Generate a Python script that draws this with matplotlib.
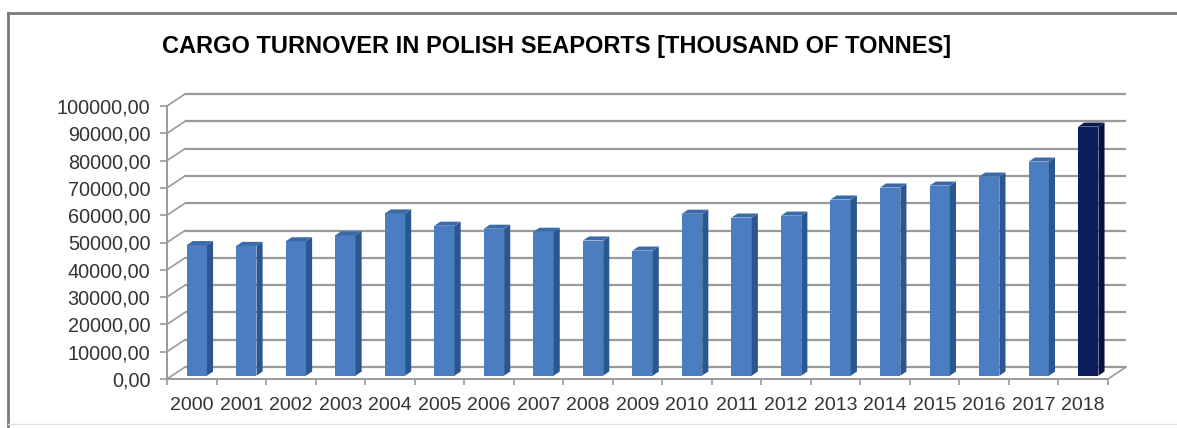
import numpy as np
import matplotlib
matplotlib.use("Agg")
import matplotlib.pyplot as plt
from matplotlib.patches import Polygon

# Cargo turnover in Polish seaports, thousand tonnes
years = ["2000", "2001", "2002", "2003", "2004", "2005", "2006", "2007", "2008", "2009",
         "2010", "2011", "2012", "2013", "2014", "2015", "2016", "2017", "2018"]
turnover = [47800, 47500, 49200, 51400, 59400, 54900, 53800, 52700, 49500, 45800,
            59300, 57900, 58600, 64500, 68900, 69600, 72900, 78400, 91200]
y_ticks = [0, 10000, 20000, 30000, 40000, 50000, 60000, 70000, 80000, 90000, 100000]
title = "CARGO TURNOVER IN POLISH SEAPORTS [THOUSAND OF TONNES]"

W, H, DPI = 1177, 428, 100
fig = plt.figure(figsize=(W / DPI, H / DPI), dpi=DPI)
fig.patch.set_facecolor("white")

# front plane of the 3D box, in pixels
left_px, right_px, base_px, top_px = 167, 1108, 379, 106
ax = fig.add_axes([left_px / W, (H - base_px) / H,
                   (right_px - left_px) / W, (base_px - top_px) / H])
n = len(years)
ax.set_xlim(0, n)
ax.set_ylim(0, 100000)
ax.set_facecolor("none")

# depth of the box expressed in data units
px_x = (right_px - left_px) / n
px_y = (base_px - top_px) / 100000
DX = 18 / px_x
DY = 12 / px_y

grid_col = "#9a9a9a"
lw_grid = 1.6

# back wall gridlines and side wall diagonals
for v in y_ticks:
    ax.plot([DX, n + DX], [v + DY, v + DY], color=grid_col, lw=lw_grid,
            clip_on=False, zorder=1, solid_capstyle="butt")
    ax.plot([0, DX], [v, v + DY], color=grid_col, lw=1.2, clip_on=False, zorder=1)
# floor
ax.plot([0, n], [0, 0], color=grid_col, lw=1.4, clip_on=False, zorder=1)
ax.plot([n, n + DX], [0, DY], color=grid_col, lw=1.2, clip_on=False, zorder=1)
ax.plot([0, 0], [0, 100000], color=grid_col, lw=1.4, clip_on=False, zorder=1)

# 3D columns
f0, f1 = 0.28, 0.62
bw = 0.41
x = np.arange(n) + 0.5
front_cols = ["#4a7ec0"] * (n - 1) + ["#0c1f5c"]
side_cols = ["#2b5791"] * (n - 1) + ["#06123e"]
top_cols = ["#3b6aa8"] * (n - 1) + ["#0a1a4e"]
bars = ax.bar(x + f0 * DX, turnover, bottom=f0 * DY, width=bw,
              color=front_cols, edgecolor="none", zorder=3, clip_on=False)
ddx = (f1 - f0) * DX
ddy = (f1 - f0) * DY
for rect, sc, tc in zip(bars, side_cols, top_cols):
    x0 = rect.get_x()
    x1 = x0 + rect.get_width()
    yb = rect.get_y()
    yt = yb + rect.get_height()
    side = Polygon([(x1, yb), (x1 + ddx, yb + ddy), (x1 + ddx, yt + ddy), (x1, yt)],
                   closed=True, facecolor=sc, edgecolor="none", zorder=3, clip_on=False)
    top = Polygon([(x0, yt), (x1, yt), (x1 + ddx, yt + ddy), (x0 + ddx, yt + ddy)],
                  closed=True, facecolor=tc, edgecolor="none", zorder=3, clip_on=False)
    ax.add_patch(side)
    ax.add_patch(top)

# axes, ticks and labels
for s in ax.spines.values():
    s.set_visible(False)
lab_font = {"family": "Liberation Sans", "size": 14.3}
ax.set_yticks(y_ticks)
ax.set_yticklabels([f"{v:d},00" for v in y_ticks], fontdict=lab_font, color="#333333")
ax.tick_params(axis="y", length=5, width=1.2, color=grid_col, pad=7)
ax.set_xticks(np.arange(n + 1))
ax.set_xticklabels([])
ax.tick_params(axis="x", which="major", length=4, width=1.2, color=grid_col)
ax.set_xticks(x, minor=True)
ax.set_xticklabels(years, minor=True, fontdict={"family": "Liberation Sans", "size": 14},
                   color="#333333")
ax.tick_params(axis="x", which="minor", length=0, pad=13)

# title
fig.text(557 / W, 1 - 47 / H, title, ha="center", va="center",
         family="Liberation Sans", weight="bold", size=17, color="black")

# outer frame
fig.add_artist(plt.Line2D([8 / W, 1], [1 - 13 / H, 1 - 13 / H], color="#7a7a7a", lw=2.0))
fig.add_artist(plt.Line2D([8 / W, 8 / W], [0, 1 - 13 / H], color="#7a7a7a", lw=2.0))
fig.add_artist(plt.Line2D([8 / W, 1], [4 / H, 4 / H], color="#e2e2e2", lw=1.0))

fig.savefig("out.png", dpi=DPI)
